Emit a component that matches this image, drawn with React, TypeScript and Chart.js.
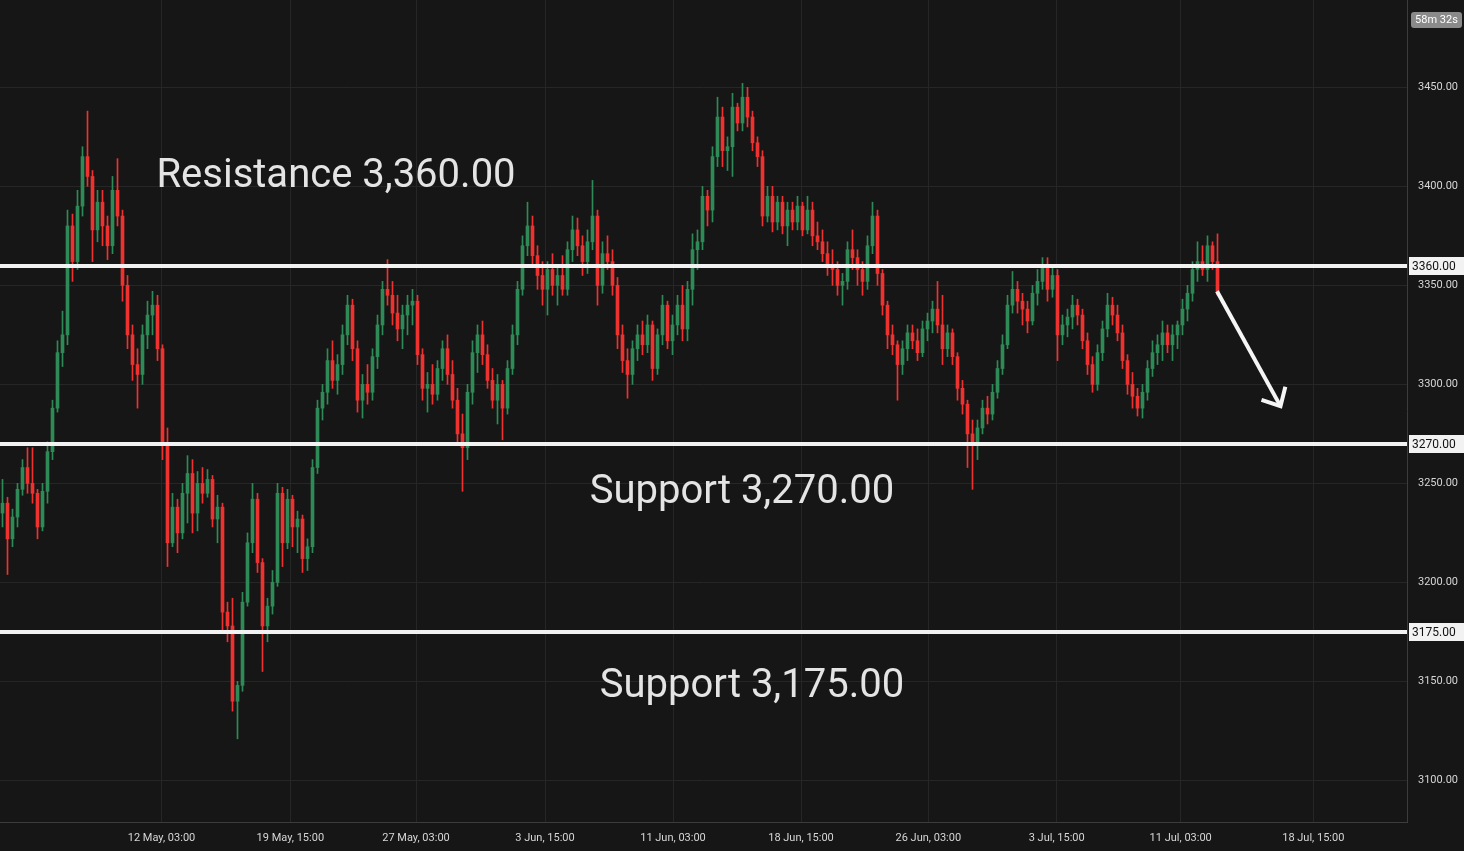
import React, { useEffect, useRef } from "react";
import { Chart, registerables } from "chart.js";

Chart.register(...registerables);

// Candles (hourly gold, resampled), oldest first
const OPEN = [
  3235, 3240, 3222, 3233, 3247, 3258, 3250, 3245, 3228, 3246, 3266, 3288, 3316, 3325, 3380, 3362, 3390, 3415, 3405, 3378,
  3392, 3380, 3370, 3398, 3385, 3350, 3325, 3310, 3305, 3325, 3335, 3340, 3318, 3270, 3220, 3238, 3225, 3245, 3255, 3235,
  3250, 3245, 3252, 3232, 3238, 3185, 3178, 3140, 3148, 3190, 3220, 3242, 3210, 3178, 3188, 3200, 3245, 3220, 3242, 3228,
  3232, 3212, 3218, 3258, 3288, 3296, 3312, 3302, 3310, 3325, 3340, 3318, 3292, 3300, 3296, 3314, 3330, 3348, 3345, 3336,
  3328, 3335, 3340, 3342, 3315, 3298, 3300, 3295, 3308, 3318, 3305, 3292, 3275, 3268, 3296, 3316, 3325, 3315, 3302, 3292,
  3300, 3288, 3308, 3325, 3348, 3370, 3380, 3365, 3355, 3348, 3358, 3350, 3355, 3348, 3368, 3378, 3370, 3362, 3372, 3385,
  3350, 3366, 3362, 3350, 3325, 3312, 3305, 3318, 3325, 3320, 3330, 3308, 3325, 3340, 3322, 3330, 3340, 3328, 3348, 3368,
  3372, 3395, 3388, 3415, 3435, 3418, 3420, 3440, 3432, 3445, 3435, 3422, 3415, 3385, 3395, 3382, 3392, 3380, 3388, 3382,
  3390, 3378, 3388, 3375, 3372, 3366, 3360, 3358, 3350, 3352, 3368, 3364, 3358, 3352, 3370, 3385, 3356, 3340, 3325, 3320,
  3310, 3318, 3326, 3322, 3316, 3328, 3332, 3338, 3330, 3318, 3326, 3314, 3298, 3290, 3275, 3270, 3278, 3288, 3285, 3296,
  3308, 3320, 3340, 3348, 3342, 3338, 3332, 3346, 3352, 3360, 3348, 3355, 3325, 3330, 3334, 3340, 3335, 3322, 3310, 3300,
  3316, 3328, 3340, 3335, 3326, 3312, 3300, 3294, 3288, 3296, 3308, 3316, 3320, 3326, 3320, 3325, 3330, 3338, 3346, 3358,
  3362, 3358, 3370, 3362,
];
const HIGH = [
  3252, 3243, 3237, 3250, 3262, 3268, 3268, 3247, 3250, 3271, 3292, 3322, 3337, 3388, 3386, 3398, 3420, 3438, 3408, 3398,
  3398, 3385, 3405, 3414, 3388, 3355, 3330, 3318, 3330, 3342, 3347, 3345, 3320, 3278, 3245, 3242, 3250, 3264, 3262, 3256,
  3258, 3257, 3254, 3244, 3240, 3190, 3192, 3150, 3195, 3225, 3250, 3245, 3212, 3192, 3206, 3250, 3248, 3247, 3244, 3236,
  3234, 3222, 3262, 3292, 3300, 3318, 3322, 3315, 3330, 3345, 3343, 3322, 3305, 3310, 3318, 3335, 3352, 3363, 3352, 3345,
  3340, 3345, 3348, 3345, 3318, 3306, 3310, 3312, 3322, 3325, 3312, 3298, 3285, 3300, 3322, 3330, 3332, 3320, 3308, 3305,
  3302, 3312, 3330, 3352, 3375, 3392, 3385, 3370, 3362, 3362, 3366, 3360, 3365, 3372, 3385, 3384, 3375, 3378, 3403, 3388,
  3372, 3375, 3368, 3354, 3330, 3318, 3322, 3330, 3332, 3335, 3332, 3328, 3345, 3342, 3335, 3345, 3350, 3352, 3376, 3378,
  3400, 3398, 3420, 3445, 3440, 3425, 3447, 3442, 3452, 3450, 3438, 3425, 3418, 3400, 3400, 3395, 3395, 3392, 3392, 3395,
  3392, 3395, 3392, 3382, 3378, 3372, 3368, 3362, 3356, 3372, 3378, 3368, 3362, 3375, 3392, 3388, 3358, 3342, 3330, 3322,
  3322, 3330, 3330, 3328, 3332, 3336, 3342, 3352, 3345, 3330, 3328, 3316, 3302, 3292, 3282, 3282, 3292, 3294, 3300, 3312,
  3325, 3345, 3357, 3352, 3346, 3342, 3350, 3358, 3364, 3364, 3360, 3358, 3335, 3338, 3345, 3343, 3338, 3326, 3314, 3320,
  3332, 3346, 3344, 3340, 3330, 3315, 3306, 3298, 3300, 3312, 3322, 3325, 3332, 3330, 3330, 3332, 3343, 3350, 3362, 3372,
  3370, 3375, 3372, 3376,
];
const LOW = [
  3228, 3204, 3218, 3228, 3244, 3245, 3240, 3222, 3226, 3240, 3262, 3286, 3309, 3320, 3352, 3358, 3385, 3400, 3362, 3372,
  3370, 3363, 3366, 3380, 3342, 3318, 3302, 3288, 3300, 3318, 3325, 3312, 3262, 3208, 3218, 3215, 3222, 3230, 3225, 3226,
  3240, 3243, 3228, 3220, 3176, 3170, 3135, 3121, 3145, 3188, 3215, 3205, 3155, 3170, 3184, 3198, 3208, 3217, 3218, 3215,
  3205, 3206, 3215, 3255, 3282, 3290, 3298, 3295, 3305, 3320, 3312, 3286, 3283, 3290, 3292, 3308, 3325, 3340, 3330, 3322,
  3318, 3325, 3330, 3310, 3292, 3286, 3290, 3292, 3302, 3300, 3288, 3270, 3246, 3262, 3290, 3306, 3310, 3298, 3288, 3280,
  3272, 3285, 3305, 3320, 3345, 3365, 3360, 3348, 3340, 3335, 3345, 3340, 3345, 3345, 3362, 3365, 3355, 3356, 3368, 3340,
  3346, 3358, 3345, 3318, 3306, 3293, 3300, 3312, 3315, 3316, 3302, 3305, 3320, 3318, 3315, 3325, 3322, 3322, 3340, 3358,
  3368, 3380, 3382, 3410, 3410, 3408, 3405, 3428, 3428, 3430, 3418, 3410, 3380, 3382, 3377, 3378, 3376, 3370, 3378, 3378,
  3375, 3376, 3370, 3368, 3362, 3355, 3350, 3345, 3340, 3348, 3358, 3350, 3345, 3348, 3366, 3350, 3335, 3318, 3315, 3292,
  3305, 3312, 3318, 3312, 3314, 3322, 3326, 3326, 3310, 3314, 3310, 3292, 3285, 3258, 3247, 3262, 3275, 3280, 3282, 3293,
  3305, 3318, 3336, 3336, 3330, 3326, 3330, 3340, 3348, 3342, 3344, 3312, 3320, 3324, 3328, 3330, 3318, 3305, 3296, 3297,
  3312, 3324, 3330, 3322, 3308, 3295, 3288, 3284, 3283, 3292, 3304, 3310, 3312, 3316, 3312, 3318, 3325, 3332, 3342, 3352,
  3355, 3352, 3358, 3345,
];
const CLOSE = [
  3240, 3222, 3233, 3247, 3258, 3250, 3245, 3228, 3246, 3266, 3288, 3316, 3325, 3380, 3362, 3390, 3415, 3405, 3378, 3392,
  3380, 3370, 3398, 3385, 3350, 3325, 3310, 3305, 3325, 3335, 3340, 3318, 3270, 3220, 3238, 3225, 3245, 3255, 3235, 3250,
  3245, 3252, 3232, 3238, 3185, 3178, 3140, 3148, 3190, 3220, 3242, 3210, 3178, 3188, 3200, 3245, 3220, 3242, 3228, 3232,
  3212, 3218, 3258, 3288, 3296, 3312, 3302, 3310, 3325, 3340, 3318, 3292, 3300, 3296, 3314, 3330, 3348, 3345, 3336, 3328,
  3335, 3340, 3342, 3315, 3298, 3300, 3295, 3308, 3318, 3305, 3292, 3275, 3268, 3296, 3316, 3325, 3315, 3302, 3292, 3300,
  3288, 3308, 3325, 3348, 3370, 3380, 3365, 3355, 3348, 3358, 3350, 3355, 3348, 3368, 3378, 3370, 3362, 3372, 3385, 3350,
  3366, 3362, 3350, 3325, 3312, 3305, 3318, 3325, 3320, 3330, 3308, 3325, 3340, 3322, 3330, 3340, 3328, 3348, 3368, 3372,
  3395, 3388, 3415, 3435, 3418, 3420, 3440, 3432, 3445, 3435, 3422, 3415, 3385, 3395, 3382, 3392, 3380, 3388, 3382, 3390,
  3378, 3388, 3375, 3372, 3366, 3360, 3358, 3350, 3352, 3368, 3364, 3358, 3352, 3370, 3385, 3356, 3340, 3325, 3320, 3310,
  3318, 3326, 3322, 3316, 3328, 3332, 3338, 3330, 3318, 3326, 3314, 3298, 3290, 3275, 3270, 3278, 3288, 3285, 3296, 3308,
  3320, 3340, 3348, 3342, 3338, 3332, 3346, 3352, 3360, 3348, 3355, 3325, 3330, 3334, 3340, 3335, 3322, 3310, 3300, 3316,
  3328, 3340, 3335, 3326, 3312, 3300, 3294, 3288, 3296, 3308, 3316, 3320, 3326, 3320, 3325, 3330, 3338, 3346, 3358, 3362,
  3358, 3370, 3362, 3347,
];

// Time axis (candle-index units) and labels
const TIME_TICK_POS = [31.8, 57.56, 82.7, 108.5, 134.1, 159.7, 185.16, 210.84, 235.64, 262.16];
const TIME_TICK_LABELS = [
  "12 May, 03:00", "19 May, 15:00", "27 May, 03:00", "3 Jun, 15:00", "11 Jun, 03:00",
  "18 Jun, 15:00", "26 Jun, 03:00", "3 Jul, 15:00", "11 Jul, 03:00", "18 Jul, 15:00",
];
const X_RANGE = [-0.5, 280.9];
const PRICE_TICKS = [3100, 3150, 3200, 3250, 3300, 3350, 3400, 3450];
const PRICE_RANGE = [3079.0, 3494.1];

// Horizontal levels and notes
const LEVELS = [3360, 3270, 3175];
const NOTE_TEXT = ["Resistance 3,360.00", "Support 3,270.00", "Support 3,175.00"];
const NOTE_X = [66.7, 147.9, 149.9];
const NOTE_Y = [3404.6, 3245, 3147];
const ARROW_X = [242.9, 255.6];
const ARROW_Y = [3347, 3289];
const COUNTDOWN = "58m 32s";

const BG = "#161616";
const GRID = "#262626";
const AXIS = "#3c3c3c";
const GREEN = "#2e8b57";
const RED = "#ee3230";
const LEVEL = "#f2f2f2";
const FONT = "Roboto";

const overlayPlugin = {
  id: "overlay",
  afterDraw(chart: any) {
    const { ctx, chartArea, scales } = chart;
    const xs = scales.x;
    const ys = scales.y;
    ctx.save();

    // level lines + axis labels
    LEVELS.forEach((v) => {
      const y = Math.round(ys.getPixelForValue(v));
      ctx.fillStyle = LEVEL;
      ctx.fillRect(chartArea.left, y - 2, chartArea.right - chartArea.left, 4);
      ctx.fillRect(chartArea.right + 2, y - 9, chart.width - chartArea.right - 2, 18);
      ctx.fillStyle = "#111111";
      ctx.font = `12px ${FONT}`;
      ctx.textAlign = "left";
      ctx.textBaseline = "middle";
      ctx.fillText(v.toFixed(2), chartArea.right + 5, y + 0.5);
    });

    // notes
    ctx.fillStyle = "#e4e4e4";
    ctx.font = `40px ${FONT}`;
    ctx.textAlign = "center";
    ctx.textBaseline = "middle";
    NOTE_TEXT.forEach((t, i) => {
      ctx.fillText(t, xs.getPixelForValue(NOTE_X[i]), ys.getPixelForValue(NOTE_Y[i]));
    });

    // arrow
    const x0 = xs.getPixelForValue(ARROW_X[0]);
    const y0 = ys.getPixelForValue(ARROW_Y[0]);
    const x1 = xs.getPixelForValue(ARROW_X[1]);
    const y1 = ys.getPixelForValue(ARROW_Y[1]);
    const ang = Math.atan2(y1 - y0, x1 - x0);
    ctx.strokeStyle = "#f5f5f5";
    ctx.lineWidth = 4;
    ctx.lineCap = "butt";
    ctx.lineJoin = "miter";
    ctx.beginPath();
    ctx.moveTo(x0, y0);
    ctx.lineTo(x1, y1);
    ctx.stroke();
    const head = 20;
    ctx.beginPath();
    ctx.moveTo(x1 + head * Math.cos(ang + Math.PI - 0.75), y1 + head * Math.sin(ang + Math.PI - 0.75));
    ctx.lineTo(x1, y1);
    ctx.lineTo(x1 + head * Math.cos(ang + Math.PI + 0.75), y1 + head * Math.sin(ang + Math.PI + 0.75));
    ctx.stroke();

    // countdown badge
    const bx = chartArea.right + 4;
    const bw = chart.width - bx - 2;
    ctx.fillStyle = "#8a8a8a";
    ctx.beginPath();
    (ctx as any).roundRect(bx, 12, bw, 16, 3);
    ctx.fill();
    ctx.fillStyle = "#ffffff";
    ctx.font = `11px ${FONT}`;
    ctx.textAlign = "center";
    ctx.textBaseline = "middle";
    ctx.fillText(COUNTDOWN, bx + bw / 2, 20.5);

    ctx.restore();
  },
};

export default function App() {
  const ref = useRef<HTMLCanvasElement | null>(null);

  useEffect(() => {
    document.body.style.margin = "0";
    document.body.style.background = BG;
    const colors = CLOSE.map((c, i) => (c >= OPEN[i] ? GREEN : RED));
    const chart = new Chart(ref.current as HTMLCanvasElement, {
      type: "bar",
      data: {
        datasets: [
          {
            label: "wick",
            data: HIGH.map((h, i) => ({ x: i, y: [LOW[i], h] })) as any,
            backgroundColor: colors,
            barThickness: 1,
            grouped: false,
            order: 2,
          } as any,
          {
            label: "body",
            data: OPEN.map((o, i) => ({ x: i, y: [Math.min(o, CLOSE[i]), Math.max(o, CLOSE[i])] })) as any,
            backgroundColor: colors,
            barThickness: 3,
            grouped: false,
            order: 1,
          } as any,
        ],
      },
      options: {
        animation: false,
        responsive: true,
        maintainAspectRatio: false,
        devicePixelRatio: 1,
        layout: { padding: 0 },
        plugins: { legend: { display: false }, tooltip: { enabled: false } },
        scales: {
          x: {
            type: "linear",
            min: X_RANGE[0],
            max: X_RANGE[1],
            offset: false,
            grid: { color: GRID, drawTicks: false, lineWidth: 1, offset: false },
            border: { display: true, color: AXIS },
            afterBuildTicks: (s: any) => {
              s.ticks = TIME_TICK_POS.map((v) => ({ value: v }));
            },
            afterFit: (s: any) => {
              s.height = 29;
              s.paddingLeft = 0;
              s.paddingRight = 0;
            },
            ticks: {
              autoSkip: false,
              maxRotation: 0,
              padding: 10,
              color: "#d6d6d6",
              font: { family: FONT, size: 11 },
              callback: (_v: any, i: number) => TIME_TICK_LABELS[i],
            },
          },
          y: {
            type: "linear",
            position: "right",
            min: PRICE_RANGE[0],
            max: PRICE_RANGE[1],
            grid: { color: GRID, drawTicks: false, lineWidth: 1 },
            border: { display: true, color: AXIS },
            afterBuildTicks: (s: any) => {
              s.ticks = PRICE_TICKS.map((v) => ({ value: v }));
            },
            afterFit: (s: any) => {
              s.width = 57;
              s.paddingTop = 0;
              s.paddingBottom = 0;
            },
            ticks: {
              padding: 11,
              color: "#d6d6d6",
              font: { family: FONT, size: 11 },
              callback: (v: any) => Number(v).toFixed(2),
            },
          },
        },
      } as any,
      plugins: [overlayPlugin],
    });
    return () => chart.destroy();
  }, []);

  return (
    <div style={{ width: 1464, height: 851, position: "relative", background: BG }}>
      <canvas ref={ref} />
    </div>
  );
}
